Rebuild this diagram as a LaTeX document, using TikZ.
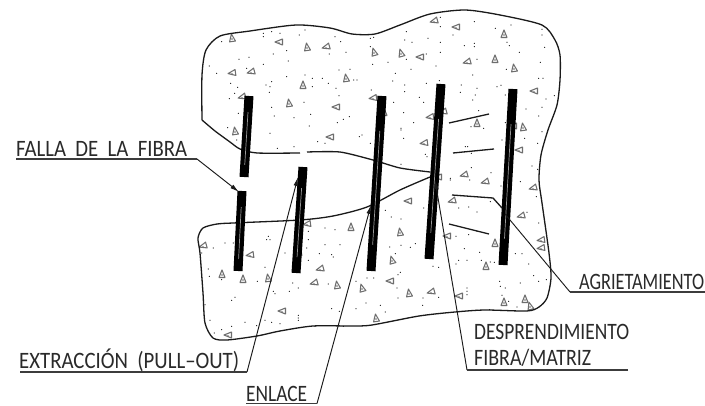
\documentclass[tikz,border=0pt]{standalone}
\usepackage{fontspec}
\setmainfont{Carlito}
\usetikzlibrary{arrows.meta}
\definecolor{ink}{HTML}{1A1A1A}
\definecolor{agg}{HTML}{6E6E6E}
\definecolor{txt}{HTML}{2A2A2A}
\newcommand{\lbl}[2]{\resizebox{#1pt}{\height}{\fontsize{23.5}{24}\selectfont #2}}
\tikzset{
 edgeline/.style={draw=ink,line width=1.3pt,line join=round},
 fibre/.style={draw=black,line width=9pt},
 fibrecore/.style={draw=white,line width=.7pt,opacity=.6},
 crack/.style={draw=ink,line width=1.3pt},
 leader/.style={draw=ink,line width=.95pt},
 shelf/.style={draw=ink!85,line width=1.6pt},
 arrowed/.style={-{Latex[length=9pt,width=4.5pt]}},
 lab/.style={inner sep=0pt,anchor=base west,text=txt},
 aggtri/.style={draw=agg,line width=1.05pt,line join=round},
}
\begin{document}
\begin{tikzpicture}[x=1pt,y=-1pt]
\useasboundingbox (0,0) rectangle (705,406);
\fill[white] (0,0) rectangle (705,406);
% dots: coordinates in 3x crop units
\foreach \a/\b in {790/100,815/95,840/100,915/90,898/105,1005/110,1022/125,790/110,665/125,860/152,820/162,1038/157,988/162,865/183,790/193,717/178,747/172,628/198,650/220,740/205,860/230,915/225,937/235,937/260,967/235,985/250,1008/265,1017/210,1050/208,692/250,713/262,815/245,798/255,810/260,808/277,704/280,688/296,1017/287,912/307,815/322,823/348,882/353,932/343,715/340,1048/350,1030/358,1012/368,928/378,683/383,810/400,710/420,832/445,882/440,953/425,975/430}
 \fill[ink] ({\a/3},{\b/3}) circle (.65pt);
\foreach \a/\b in {55/115,65/112,163/95,158/120,180/127,228/115,265/127,265/52,265/80,303/105,367/65,430/85,477/75,465/127,472/137,337/137,367/130,367/140,502/157,578/142,570/88,570/105,55/140,223/162,265/157,163/178,375/178,62/193,108/187,252/198,177/208,130/220,565/187,463/208,362/225,122/243,5/240,15/240,560/235,573/235,158/255,223/250,262/242,328/255,375/265,435/260,447/256,58/270,158/275,325/277,370/285,460/285,607/287,582/297,202/292,215/307,362/300,125/307,570/322,522/327,155/338,380/332,560/348,185/368,147/385,147/390,357/380,395/385,460/368,30/405,22/410,155/415,570/395,518/415,450/420,55/430,557/430,340/440,347/440,358/460,220/463,225/470,147/493,540/498,358/503,557/508,417/518,295/535,295/540,353/540,505/545,447/558,465/560,553/590,415/605}
 \fill[ink] ({\a/3+352},{\b/3}) circle (.65pt);
\foreach \a/\b in {805/100,810/110,800/110,640/135,675/120,700/120,605/150,855/150,925/85,925/110,920/135,975/125,1020/125,958/152,995/155,1000/162,925/172,795/193,625/198,628/220,665/230,772/235,878/240,895/255,868/265,985/243,820/265,825/272,705/283,695/292,615/305,995/317,1018/325,895/337,895/345,895/352,630/352,735/358,795/352,815/358,840/362,770/368,643/390,665/380,695/370,1030/370,945/370,1005/80,975/75}
 \fill[ink] ({\a/3},{\b/3+203}) circle (.65pt);
\foreach \a/\b in {118/42,147/48,100/22,215/15,320/15,350/12,375/27,560/60,525/28,312/100,350/95,375/85,190/122,175/133,147/127,113/132,337/137,383/148,130/152,243/190,260/193,320/172,345/172,312/183,388/172,415/177,490/152,510/152,530/183,427/178,145/208,138/215,65/225,45/225,12/235,545/218,583/230,560/235,505/240,443/235,445/250,460/255,450/277,345/255,345/265,345/275,135/255,138/285,213/285,260/283,212/307,42/300,85/307,12/317,100/327,495/312,470/295,413/320,375/322}
 \fill[ink] ({\a/3+352},{\b/3+203}) circle (.65pt);
% aggregates
\foreach \x/\y in {232/38,279/42,307/47,326/47,232/73,251/72,303/85,346/78,289/103,336/107,242/97,235/131,330/137,434/21,456/27,504/34,374/52,401/53,420/57,467/62,495/59,514/68,534/91,373/98,384/112,430/117,443/112,477/123,513/126,523/127,424/143,519/150,464/175,485/182,438/177,533/188,408/201,452/201,203/246,250/255,222/274,243/279,268/278,298/253,320/269,314/283,337/285,282/311,228/335,307/224,351/227,400/232,392/260,390/281,362/288,409/293,431/292,459/296,376/318,447/236,495/243,486/266,521/216,541/240,541/248,504/302,525/299,530/306}{
 \pgfmathsetmacro{\r}{mod(\x+\y,2)*90+mod(\x,3)*8}
 \draw[aggtri,rotate around={\r:(\x,\y)}] (\x-3,\y+3.5) -- (\x+3,\y+3.5) -- (\x,\y-4) -- cycle;
 \fill[agg,opacity=.7] (\x,\y+1) circle (1.2pt);
}
% matrix outline
\draw[edgeline] plot[smooth,tension=.45] coordinates {(202,120) (202,75) (206,50) (220,36) (250,31) (296,25) (330,28) (352,34) (375,34) (400,25) (430,14) (465,10) (500,15) (542,25) (555,40) (560,55) (560,80) (557,105) (548,130) (541,155) (539,180) (542,203) (549,253) (551,278) (547,298) (539,307) (527,311) (485,310) (455,312) (419,316) (372,325) (352,326) (313,326) (280,331) (257,336) (227,340) (213,338) (205,323) (203,293) (200,253) (198,238) (203,228) (217,224) (233,223) (300,220) (333,216) (367,207) (400,190) (430,177)};
\draw[edgeline] plot[smooth,tension=.4] coordinates {(202,120) (215,131) (230,142) (240,149) (257,153) (300,153)};
\draw[edgeline] plot[smooth,tension=.4] coordinates {(307,152) (340,152) (373,160) (400,168) (430,172)};
% fibres
\foreach \xa/\ya/\xb/\yb in {249/96/244/177,242/191/238/271,303/167/296/273,382/96/371/271,441/84/429/259,513/89/503/265}{
 \draw[fibre] (\xa,\ya) -- (\xb,\yb);
 \draw[fibrecore] ({\xa*.8+\xb*.2},{\ya*.8+\yb*.2}) -- ({\xa*.15+\xb*.85},{\ya*.15+\yb*.85});
}
% cracks
\draw[crack] (449,123) -- (489,114);
\draw[crack] (453,153) -- (494,149);
\draw[crack] (452,195) -- (493,198) -- (502,208);
\draw[crack] (449,224) -- (489,234);
% leader anchors
\coordinate (fallaA) at (16,159); \coordinate (fallaB) at (197,159); \coordinate (fallaC) at (239,192);
\coordinate (extA) at (20,372); \coordinate (extB) at (247,372); \coordinate (extC) at (298,177);
\coordinate (enlA) at (246,403.6); \coordinate (enlB) at (317,403.6); \coordinate (enlC) at (371,205);
\coordinate (desA) at (628,370); \coordinate (desB) at (467,370); \coordinate (desC) at (435,180);
\coordinate (agrA) at (705,292); \coordinate (agrB) at (570,292); \coordinate (agrC) at (505,214);
% leaders
\draw[leader,arrowed] (fallaB) -- (fallaC);
\draw[leader,arrowed] (extB) -- (extC);
\draw[leader,arrowed] (enlB) -- (enlC);
\draw[leader,arrowed] (desB) -- (desC);
\draw[leader] (agrB) -- (agrC);
\draw[shelf] (fallaA) -- (fallaB);
\draw[shelf] (extA) -- (extB);
\draw[shelf] (enlA) -- (enlB);
\draw[shelf] (desA) -- (desB);
\draw[shelf] (agrA) -- (agrB);
% labels
\node[lab] (tFalla) at (16,156.5) {\lbl{171}{FALLA\ \ DE\ \ LA\ \ FIBRA}};
\node[lab] (tExt) at (19,369) {\lbl{220}{EXTRACCIÓN\ \ (PULL–OUT)}};
\node[lab] (tEnl) at (246,401.5) {\lbl{61}{ENLACE}};
\node[lab] (tAgr) at (579,290) {\lbl{125}{AGRIETAMIENTO}};
\node[lab] (tDes) at (474,339) {\lbl{155}{DESPRENDIMIENTO}};
\node[lab] (tFib) at (474,366) {\lbl{117}{FIBRA/MATRIZ}};
\end{tikzpicture}
\end{document}
